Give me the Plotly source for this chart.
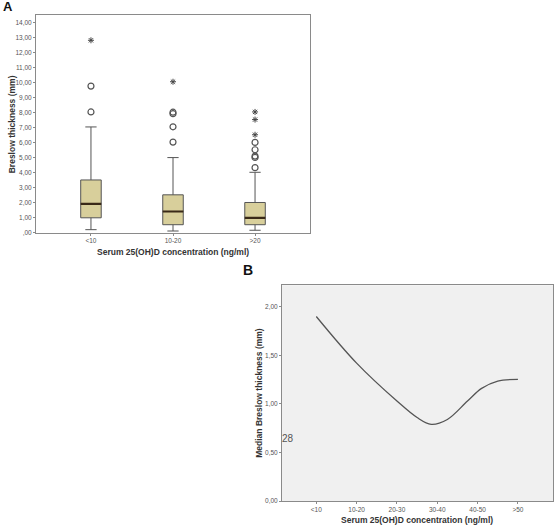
import plotly.graph_objects as go

# ---- Panel A data (box plot) ----
groups_a = ["<10", "10-20", ">20"]
q1 = [0.99, 0.53, 0.53]
median = [1.92, 1.41, 0.99]
q3 = [3.51, 2.52, 2.01]
lower_whisker = [0.20, 0.11, 0.16]
upper_whisker = [7.04, 5.00, 4.02]
outliers_circle = [[9.76, 8.04], [6.03, 7.05, 7.92, 8.02], [4.33, 5.01, 5.10, 5.52, 6.01]]
outliers_star = [[12.81], [10.05], [6.52, 7.53, 8.04]]
yticks_a = [0, 1, 2, 3, 4, 5, 6, 7, 8, 9, 10, 11, 12, 13, 14]
yticklabels_a = [",00"] + [f"{v},00" for v in yticks_a[1:]]

# ---- Panel B data (median curve) ----
groups_b = ["<10", "10-20", "20-30", "30-40", "40-50", ">50"]
curve_pos = [0, 1, 2, 2.5, 2.85, 3.25, 3.75, 4.1, 4.5, 5]
curve_median = [1.90, 1.42, 1.03, 0.86, 0.79, 0.84, 1.03, 1.16, 1.235, 1.253]
yticks_b = [0, 0.5, 1.0, 1.5, 2.0]
yticklabels_b = ["0,00", "0,50", "1,00", "1,50", "2,00"]

FONT = "Liberation Sans, Arial, sans-serif"
BOX_W = 0.25

fig = go.Figure()

for i, g in enumerate(groups_a):
    fig.add_trace(go.Box(
        x=[i], q1=[q1[i]], median=[median[i]], q3=[q3[i]],
        lowerfence=[lower_whisker[i]], upperfence=[upper_whisker[i]],
        width=BOX_W, whiskerwidth=0.55,
        fillcolor="#d8cf9b", line=dict(color="#555555", width=1),
        boxpoints=False, showlegend=False, xaxis="x", yaxis="y", hoverinfo="skip"))
    # thick median line
    fig.add_trace(go.Scatter(
        x=[i - BOX_W / 2, i + BOX_W / 2], y=[median[i], median[i]], mode="lines",
        line=dict(color="#3a2a18", width=2.2), showlegend=False,
        xaxis="x", yaxis="y", hoverinfo="skip"))
    fig.add_trace(go.Scatter(
        x=[i] * len(outliers_circle[i]), y=outliers_circle[i], mode="markers",
        marker=dict(symbol="circle-open", size=6, color="#555555", line=dict(width=1.2)),
        showlegend=False, xaxis="x", yaxis="y", hoverinfo="skip"))
    fig.add_trace(go.Scatter(
        x=[i] * len(outliers_star[i]), y=outliers_star[i], mode="markers",
        marker=dict(symbol="asterisk-open", size=5, color="#444444", line=dict(width=1, color="#444444")),
        showlegend=False, xaxis="x", yaxis="y", hoverinfo="skip"))

fig.add_trace(go.Scatter(
    x=curve_pos, y=curve_median, mode="lines",
    line=dict(color="#555555", width=1.3, shape="spline", smoothing=1.0),
    showlegend=False, xaxis="x2", yaxis="y2", hoverinfo="skip"))

W, H = 556, 527
ax_common = dict(showgrid=False, zeroline=False, showline=True, linecolor="#8a8a8a", linewidth=1,
                 mirror=True, ticks="outside", ticklen=2, tickcolor="#8a8a8a",
                 tickfont=dict(family=FONT, size=6.5, color="#555555"))

fig.update_layout(
    width=W, height=H, margin=dict(l=0, r=0, t=0, b=0),
    paper_bgcolor="white", plot_bgcolor="white",
    xaxis=dict(domain=[36 / W, 310 / W], range=[-0.67, 2.67], tickvals=[0, 1, 2], ticktext=groups_a,
               anchor="y", **ax_common),
    yaxis=dict(domain=[1 - 234 / H, 1 - 15 / H], range=[0, 14.5], tickvals=yticks_a, ticktext=yticklabels_a,
               anchor="x", **ax_common),
    xaxis2=dict(domain=[282 / W, 553 / W], range=[-0.85, 5.87], tickvals=list(range(len(groups_b))),
                ticktext=groups_b, anchor="y2", **ax_common),
    yaxis2=dict(domain=[1 - 504 / H, 1 - 287 / H], range=[0, 2.22], tickvals=yticks_b, ticktext=yticklabels_b,
                anchor="x2", **ax_common),
)

# panel B background
fig.add_shape(type="rect", xref="x2 domain", yref="y2 domain", x0=0, x1=1, y0=0, y1=1,
              fillcolor="#f0f0f0", line=dict(width=0), layer="below")


def px_ann(text, x, y, size, bold=True, angle=0, color="#222222"):
    fig.add_annotation(text=f"<b>{text}</b>" if bold else text, x=x / W, y=1 - y / H,
                       xref="paper", yref="paper", showarrow=False, textangle=angle,
                       font=dict(family=FONT, size=size, color=color), xanchor="center", yanchor="middle")


px_ann("A", 8, 7, 13, color="#111111")
px_ann("B", 248, 272, 14, color="#111111")
px_ann("Breslow thickness (mm)", 12, 125, 8.5, angle=-90, color="#333333")
px_ann("Serum 25(OH)D concentration (ng/ml)", 173, 253, 8.5, color="#333333")
px_ann("Median Breslow thickness (mm)", 259, 395, 8.5, angle=-90, color="#333333")
px_ann("Serum 25(OH)D concentration (ng/ml)", 417, 523, 8.5, color="#333333")
px_ann("28", 288, 441, 10, bold=False, color="#555555")

fig.write_html("out.html")
